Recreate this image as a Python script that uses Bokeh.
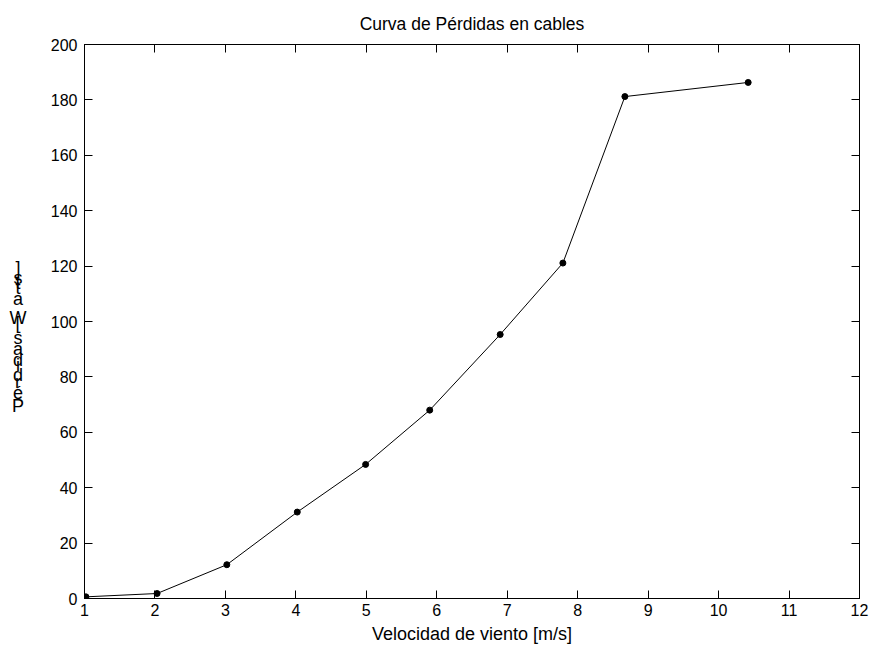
from bokeh.plotting import figure
from bokeh.layouts import row
from bokeh.models import LinearAxis, FixedTicker, Range1d, CustomJSTickFormatter
from bokeh.core.properties import value
from bokeh.embed import file_html
from bokeh.resources import INLINE

# Pérdidas en cables frente a la velocidad del viento
viento = [1.02, 2.03, 3.02, 4.02, 4.99, 5.90, 6.90, 7.79, 8.67, 10.42]
perdidas = [0.6, 1.8, 12.2, 31.2, 48.4, 68.0, 95.3, 121.1, 181.2, 186.3]
x_ticks = list(range(1, 13))
y_ticks = list(range(0, 201, 20))
titulo = "Curva de Pérdidas en cables"
etiqueta_x = "Velocidad de viento [m/s]"
etiqueta_y = "Pérdidas [Watts]"

FONT = "Liberation Sans"
W, H = 873, 652
STRIP = 30                      # narrow panel holding the vertical label
LEFT, RIGHT, TOP, BOTTOM = 84 - STRIP, 14, 43, 54

p = figure(width=W - STRIP, height=H, output_backend="svg",
           toolbar_location=None,
           x_range=Range1d(1, 12), y_range=Range1d(0, 200),
           min_border_left=LEFT, min_border_right=RIGHT,
           min_border_top=TOP, min_border_bottom=BOTTOM,
           x_axis_label=etiqueta_x)
p.xgrid.visible = False
p.ygrid.visible = False
p.outline_line_color = "black"
p.outline_line_width = 1
p.background_fill_color = "white"
p.border_fill_color = "white"

p.title.text = titulo
p.title.align = "center"
p.title.text_font = FONT
p.title.text_font_size = "17.5px"
p.title.text_font_style = "normal"
p.title.text_color = "black"
p.title.standoff = 22


def style_axis(ax, ticks, show_labels=True):
    ax.ticker = FixedTicker(ticks=ticks)
    ax.major_tick_in = 8
    ax.major_tick_out = 0
    ax.minor_tick_line_color = None
    ax.axis_line_color = "black"
    ax.major_tick_line_color = "black"
    ax.major_label_text_font = FONT
    ax.major_label_text_font_size = "16px"
    ax.major_label_text_color = "black"
    ax.axis_label_text_font = FONT
    ax.axis_label_text_font_size = "18px"
    ax.axis_label_text_font_style = "normal"
    ax.axis_label_text_color = "black"
    if not show_labels:
        ax.formatter = CustomJSTickFormatter(code="return ''")
        ax.major_label_standoff = 0


style_axis(p.xaxis[0], x_ticks)
style_axis(p.yaxis[0], y_ticks)
p.xaxis[0].major_label_standoff = 5
p.xaxis[0].axis_label_standoff = 5
p.yaxis[0].major_label_standoff = 7

top_axis = LinearAxis()
style_axis(top_axis, x_ticks, show_labels=False)
p.add_layout(top_axis, "above")
right_axis = LinearAxis()
style_axis(right_axis, y_ticks, show_labels=False)
p.add_layout(right_axis, "right")

p.line(viento, perdidas, line_color="black", line_width=1)
p.scatter(viento, perdidas, size=6, fill_color="black", line_color="black")

# Vertical axis label in its own strip: upright glyphs stacked
# bottom-to-top, each one advanced by its own horizontal width.
# The row aligns this strip's frame with the main frame, so its y range
# runs in page pixels over the same span.
strip = figure(width=STRIP, height=H, output_backend="svg",
               toolbar_location=None, x_axis_type=None, y_axis_type=None,
               x_range=Range1d(0, STRIP), y_range=Range1d(H - BOTTOM, TOP),
               min_border_left=0, min_border_right=0,
               min_border_top=TOP, min_border_bottom=BOTTOM)
strip.outline_line_color = None
strip.xgrid.visible = False
strip.ygrid.visible = False
strip.background_fill_color = "white"
strip.border_fill_color = "white"

advance = {"P": .667, "é": .556, "r": .333, "d": .556, "i": .222, "a": .556,
           "s": .5, " ": .278, "[": .278, "W": .944, "t": .278, "]": .278}
scale = 19.6
chars, cx, cy = [], [], []
offset = 0.0
for ch in etiqueta_y:
    if ch != " ":
        chars.append(ch)
        cx.append(17.5)
        cy.append(405 - offset * scale)
    offset += advance.get(ch, 0.5)

strip.text(x=cx, y=cy, text=chars, text_align="center",
           text_baseline="alphabetic", text_font=value(FONT),
           text_font_size="18px", text_color="black")

layout = row(strip, p, spacing=0)
open("out.html", "w").write(file_html(layout, INLINE))
